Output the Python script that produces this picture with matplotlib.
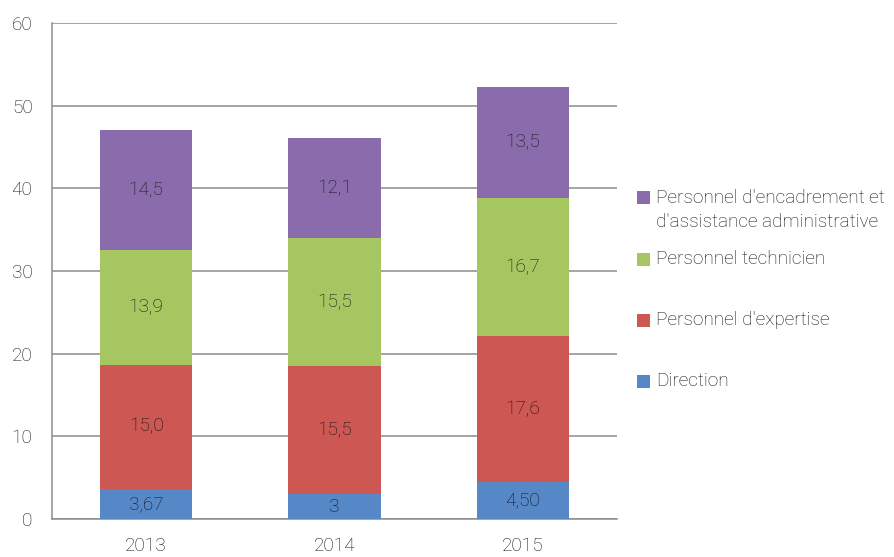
import matplotlib
matplotlib.use("Agg")
import matplotlib.pyplot as plt
from matplotlib.patches import Rectangle

plt.rcParams['font.family'] = ['Roboto', 'DejaVu Sans']
plt.rcParams['font.weight'] = 'light'

years = ["2013", "2014", "2015"]
series_names = ["Direction", "Personnel d'expertise", "Personnel technicien",
                "Personnel d'encadrement et\nd'assistance administrative"]
direction = [3.67, 3.0, 4.50]
expertise = [15.0, 15.5, 17.6]
technicien = [13.9, 15.5, 16.7]
encadrement = [14.5, 12.1, 13.5]
value_labels = [["3,67", "3", "4,50"], ["15,0", "15,5", "17,6"],
                ["13,9", "15,5", "16,7"], ["14,5", "12,1", "13,5"]]
colors = ["#5688C8", "#CD5753", "#A6C662", "#8A6CAC"]
yticks = [0, 10, 20, 30, 40, 50, 60]

fig = plt.figure(figsize=(8.95, 5.57), dpi=100)
ax = fig.add_axes([0.0581, 0.0682, 0.6313, 0.8905])

x = list(range(len(years)))
bottoms = [0.0] * len(years)
text_color = "#141414"
fs = 13.7
for i, vals in enumerate([direction, expertise, technicien, encadrement]):
    bars = ax.bar(x, vals, bottom=bottoms, width=0.49, color=colors[i], zorder=3)
    for j, b in enumerate(bars):
        ax.text(b.get_x() + b.get_width() / 2, bottoms[j] + vals[j] / 2,
                value_labels[i][j], ha="center", va="center", fontsize=fs,
                color=text_color, zorder=4)
    bottoms = [bottoms[k] + vals[k] for k in range(len(years))]

ax.set_xlim(-0.5, 2.5)
ax.set_ylim(0, 60)
ax.set_yticks(yticks)
ax.set_yticklabels([str(t) for t in yticks])
ax.set_xticks(x)
ax.set_xticklabels(years)
ax.tick_params(axis="both", length=0, labelsize=fs, colors=text_color)
ax.tick_params(axis="y", pad=14)
ax.tick_params(axis="x", pad=13)
ax.yaxis.grid(True, color="#8C8C8C", linewidth=1.1, zorder=0)
ax.set_axisbelow(True)
for s in ["top", "right"]:
    ax.spines[s].set_visible(False)
for s in ["left", "bottom"]:
    ax.spines[s].set_color("#8C8C8C")
    ax.spines[s].set_linewidth(1.1)

# legend (manual placement, reverse order)
W, H = 895, 557
legend_items = [(3, 197, 210), (2, 259, 259), (1, 320, 320), (0, 381, 381)]
for idx, ymark, ytext in legend_items:
    fig.patches.append(Rectangle((637 / W, 1 - (ymark + 6.5) / H), 13 / W, 13 / H,
                                 transform=fig.transFigure, facecolor=colors[idx],
                                 edgecolor="none"))
    fig.text(656 / W, 1 - ytext / H, series_names[idx], ha="left", va="center",
             fontsize=fs, color=text_color, linespacing=1.37)

fig.savefig("out.png", dpi=100)
